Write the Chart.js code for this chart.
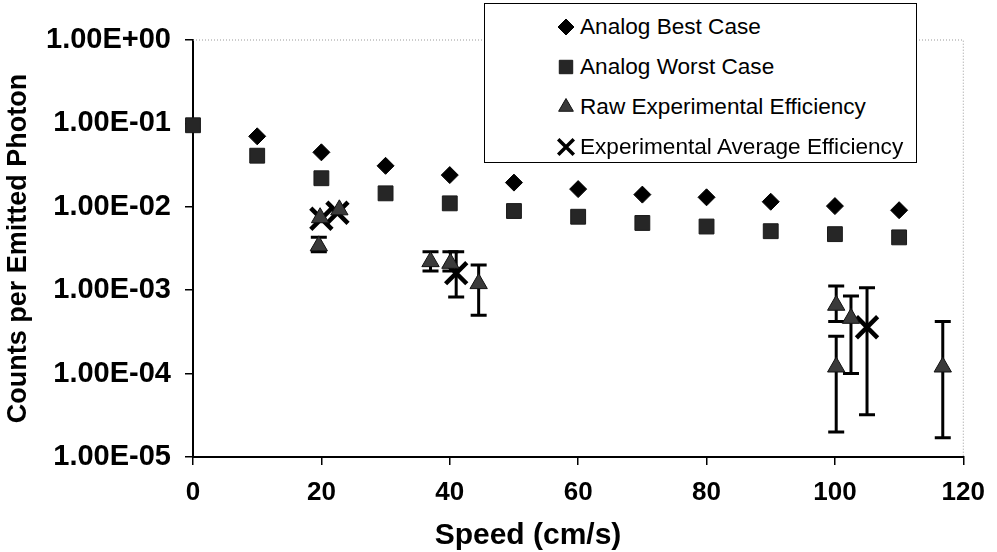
<!DOCTYPE html>
<html><head><meta charset="utf-8">
<script src="https://cdn.jsdelivr.net/npm/chart.js@4/dist/chart.umd.min.js"></script>
<style>
html,body{margin:0;padding:0;background:#fff;}
#wrap{position:relative;width:997px;height:552px;}
#legend{position:absolute;left:484px;top:3px;width:431px;height:158px;border:1.5px solid #000;background:#fff;font-family:'Liberation Sans',Arial,sans-serif;font-size:22.6px;color:#000;}
.item{position:absolute;left:70px;height:40px;line-height:40px;white-space:nowrap;}
.item canvas{vertical-align:middle;margin-right:3px;position:relative;top:-2px}
#xtitle{position:absolute;left:378px;width:300px;top:516px;text-align:center;font-family:'Liberation Sans',Arial,sans-serif;font-weight:bold;font-size:30px;line-height:36px;color:#000;white-space:nowrap;}
</style></head>
<body>
<div id="wrap">
<canvas id="c" width="997" height="552"></canvas>
<div id="legend"></div>
<div id="xtitle"></div>
</div>
<script>
// ---- data ----
const speedBest = [10, 20, 30, 40, 50, 60, 70, 80, 90, 100, 110];
const bestCase  = [0.070, 0.045, 0.031, 0.024, 0.0195, 0.0163, 0.014, 0.013, 0.0115, 0.0102, 0.0091];

const speedWorst = [0, 10, 20, 30, 40, 50, 60, 70, 80, 90, 100, 110];
const worstCase  = [0.095, 0.041, 0.022, 0.0145, 0.011, 0.0089, 0.0076, 0.0064, 0.0058, 0.0051, 0.0047, 0.0043];

const rawSpeed = [19.6, 19.8, 22.8, 37.0, 40.1, 44.5, 100.2, 100.2, 102.5, 116.8];
const rawEff   = [0.0034, 0.0074, 0.0092, 0.0022, 0.0021, 0.0012, 0.00066, 0.00012, 0.00046, 0.00012];
const rawLow   = [0.0029, null, null, 0.0017, 0.0017, 0.0005, 0.00042, 0.00002, 0.0001, 0.000017];
const rawHigh  = [0.0043, null, null, 0.0029, 0.0029, 0.0020, 0.00112, 0.00028, 0.00085, 0.00042];

const avgSpeed = [20, 22.5, 41.0, 105];
const avgEff   = [0.0072, 0.0085, 0.0016, 0.00036];
const avgLow   = [null, null, 0.00083, 0.000032];
const avgHigh  = [null, null, 0.0029, 0.00107];

const yTickValues = [1e-5, 1e-4, 1e-3, 1e-2, 1e-1, 1];
const yTickLabels = ['1.00E-05', '1.00E-04', '1.00E-03', '1.00E-02', '1.00E-01', '1.00E+00'];
const xTickValues = [0, 20, 40, 60, 80, 100, 120];

const seriesNames = ['Analog Best Case', 'Analog Worst Case', 'Raw Experimental Efficiency', 'Experimental Average Efficiency'];
const xTitle = 'Speed (cm/s)';
const yTitle = 'Counts per Emitted Photon';

const pts = (xs, ys) => xs.map((v, i) => ({x: v, y: ys[i]}));

const FONT = "'Liberation Sans', Arial, sans-serif";

const errorBars = {
  id: 'errorBars',
  beforeDatasetsDraw(chart) {
    const {ctx, scales: {x, y}} = chart;
    ctx.save();
    ctx.strokeStyle = '#000';
    ctx.lineWidth = 3;
    chart.data.datasets.forEach(ds => {
      if (!ds.errLow) return;
      ds.data.forEach((p, j) => {
        const lo = ds.errLow[j], hi = ds.errHigh[j];
        if (lo == null && hi == null) return;
        const px = x.getPixelForValue(p.x);
        const py = y.getPixelForValue(p.y);
        const pLo = lo == null ? py : y.getPixelForValue(lo);
        const pHi = hi == null ? py : y.getPixelForValue(hi);
        ctx.beginPath();
        ctx.moveTo(px, pLo); ctx.lineTo(px, pHi);
        if (lo != null) { ctx.moveTo(px - 8, pLo); ctx.lineTo(px + 8, pLo); }
        if (hi != null) { ctx.moveTo(px - 8, pHi); ctx.lineTo(px + 8, pHi); }
        ctx.stroke();
      });
    });
    ctx.restore();
  }
};

const frame = {
  id: 'frame',
  beforeDatasetsDraw(chart) {
    const {ctx, chartArea: a} = chart;
    ctx.save();
    ctx.strokeStyle = '#999';
    ctx.lineWidth = 1;
    ctx.setLineDash([1, 2]);
    ctx.beginPath();
    ctx.moveTo(a.left, a.top); ctx.lineTo(a.right, a.top); ctx.lineTo(a.right, a.bottom);
    ctx.stroke();
    ctx.restore();
  }
};

const datasets = [
  {label: seriesNames[0], data: pts(speedBest, bestCase), pointStyle: 'rectRot', pointRadius: 8.5,
   backgroundColor: '#000', borderColor: '#000', borderWidth: 1, clip: false},
  {label: seriesNames[1], data: pts(speedWorst, worstCase), pointStyle: 'rect', pointRadius: 10.5,
   backgroundColor: '#262626', borderColor: '#1a1a1a', borderWidth: 1, clip: false},
  {label: seriesNames[2], data: pts(rawSpeed, rawEff), pointStyle: 'triangle', pointRadius: 10,
   backgroundColor: '#3a3a3a', borderColor: '#111', borderWidth: 1, clip: false, errLow: rawLow, errHigh: rawHigh},
  {label: seriesNames[3], data: pts(avgSpeed, avgEff), pointStyle: 'crossRot', pointRadius: 15,
   backgroundColor: '#000', borderColor: '#000', borderWidth: 4.5, clip: false, errLow: avgLow, errHigh: avgHigh}
];

const chart = new Chart(document.getElementById('c'), {
  type: 'scatter',
  data: {datasets},
  options: {
    responsive: false,
    animation: false,
    devicePixelRatio: 1,
    layout: {padding: {top: 40, right: 25, left: 0, bottom: 0}},
    plugins: {legend: {display: false}, tooltip: {enabled: false}},
    scales: {
      x: {
        type: 'linear', min: 0, max: 120,
        afterFit: s => { s.height = 95; },
        afterBuildTicks: s => { s.ticks = xTickValues.map(v => ({value: v})); },
        grid: {drawOnChartArea: false, drawTicks: true, tickLength: 8, color: '#000', lineWidth: 1.5},
        border: {color: '#000', width: 2},
        ticks: {color: '#000', padding: 12, maxRotation: 0, font: {family: FONT, weight: 'bold', size: 26}},
        title: {display: false, text: xTitle}
      },
      y: {
        type: 'logarithmic', min: 1e-5, max: 1,
        afterFit: s => { s.width = 193; },
        afterBuildTicks: s => { s.ticks = yTickValues.map(v => ({value: v})); },
        grid: {drawOnChartArea: false, drawTicks: true, tickLength: 8, color: '#000', lineWidth: 1.5},
        border: {color: '#000', width: 2},
        ticks: {color: '#000', padding: 14, font: {family: FONT, weight: 'bold', size: 29},
          callback: (v, i) => yTickLabels[i]},
        title: {display: true, text: yTitle, color: '#000', padding: {top: 2}, font: {family: FONT, weight: 'bold', size: 27}}
      }
    }
  },
  plugins: [frame, errorBars]
});

document.getElementById('xtitle').textContent = xTitle;

// HTML legend built from datasets
const leg = document.getElementById('legend');
datasets.forEach((ds, i) => {
  const it = document.createElement('div');
  it.className = 'item';
  it.style.top = (2.5 + i * 40) + 'px';
  const cv = document.createElement('canvas');
  cv.width = 22; cv.height = 22;
  const cx = cv.getContext('2d');
  cx.fillStyle = ds.backgroundColor; cx.strokeStyle = ds.borderColor;
  cx.lineWidth = ds.pointStyle === 'crossRot' ? 3.5 : 1;
  const r = {rectRot: 8, rect: 9.5, triangle: 8.5, crossRot: 11}[ds.pointStyle];
  Chart.helpers.drawPoint(cx, {pointStyle: ds.pointStyle, radius: r, borderWidth: cx.lineWidth, rotation: 0}, 11, 12);
  it.appendChild(cv);
  it.appendChild(document.createTextNode(ds.label));
  leg.appendChild(it);
});
</script>
</body></html>
